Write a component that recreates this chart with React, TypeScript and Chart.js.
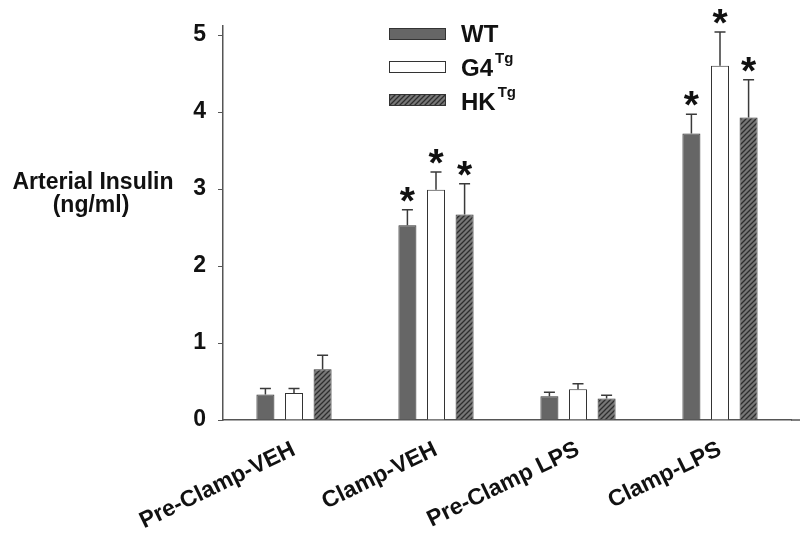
import { useEffect, useRef } from "react";
import { Chart, registerables } from "chart.js";
Chart.register(...registerables);

const categories = ["Pre-Clamp-VEH", "Clamp-VEH", "Pre-Clamp LPS", "Clamp-LPS"];
const seriesNames = ["WT", "G4", "HK"];
const seriesSup = ["", "Tg", "Tg"];
const wtValues = [0.33, 2.53, 0.31, 3.72];
const wtSem = [0.08, 0.2, 0.05, 0.25];
const g4Values = [0.35, 2.99, 0.4, 4.6];
const g4Sem = [0.06, 0.23, 0.07, 0.44];
const hkValues = [0.66, 2.67, 0.28, 3.93];
const hkSem = [0.18, 0.4, 0.04, 0.49];
const significant = [false, true, false, true];
const yTickValues = [0, 1, 2, 3, 4, 5];
const yTitleLines = ["Arterial Insulin", "(ng/ml)"];

const FONT = '"Liberation Sans", Arial, sans-serif';

function makeHatch(): CanvasPattern | string {
  const s = 5;
  const c = document.createElement("canvas");
  c.width = s;
  c.height = s;
  const g = c.getContext("2d");
  if (!g) return "#777";
  g.fillStyle = "#777777";
  g.fillRect(0, 0, s, s);
  g.strokeStyle = "#2e2e2e";
  g.lineWidth = 1.3;
  g.beginPath();
  g.moveTo(-1, s + 1);
  g.lineTo(s + 1, -1);
  g.moveTo(-1, 1);
  g.lineTo(1, -1);
  g.moveTo(s - 1, s + 1);
  g.lineTo(s + 1, s - 1);
  g.stroke();
  const p = g.createPattern(c, "repeat");
  return p || "#777";
}

const errorPlugin = {
  id: "errorBars",
  afterDatasetsDraw(chart: any) {
    const ctx = chart.ctx;
    const y = chart.scales.y;
    chart.data.datasets.forEach((ds: any, di: number) => {
      const meta = chart.getDatasetMeta(di);
      meta.data.forEach((bar: any, i: number) => {
        const topPx = y.getPixelForValue(ds.data[i] + ds.sem[i]);
        ctx.save();
        ctx.strokeStyle = "#3a3a3a";
        ctx.lineWidth = 1.5;
        ctx.beginPath();
        ctx.moveTo(bar.x, bar.y);
        ctx.lineTo(bar.x, topPx);
        ctx.moveTo(bar.x - 5.5, topPx);
        ctx.lineTo(bar.x + 5.5, topPx);
        ctx.stroke();
        if (significant[i]) {
          ctx.font = "bold 100px " + FONT;
          const m100 = ctx.measureText("*");
          const h100 = m100.actualBoundingBoxAscent + m100.actualBoundingBoxDescent;
          const size = Math.round((15 / h100) * 100);
          ctx.font = "bold " + size + "px " + FONT;
          const m = ctx.measureText("*");
          ctx.fillStyle = "#111";
          ctx.textAlign = "center";
          ctx.textBaseline = "alphabetic";
          ctx.fillText("*", bar.x, topPx - 8 - m.actualBoundingBoxDescent);
        }
        ctx.restore();
      });
    });
  },
};

const decorPlugin = {
  id: "decor",
  afterDraw(chart: any) {
    const ctx = chart.ctx;
    const area = chart.chartArea;
    ctx.save();
    ctx.strokeStyle = "#555";
    ctx.lineWidth = 1.5;
    ctx.beginPath();
    ctx.moveTo(area.right, area.bottom);
    ctx.lineTo(chart.width, area.bottom);
    ctx.stroke();

    ctx.fillStyle = "#111";
    ctx.textAlign = "center";
    ctx.textBaseline = "alphabetic";
    ctx.font = "bold 23px " + FONT;
    ctx.fillText(yTitleLines[0], 93, 189);
    ctx.fillText(yTitleLines[1], 91, 212);

    chart.data.datasets.forEach((ds: any, i: number) => {
      const bx = 389;
      const by = 28 + i * 33;
      ctx.fillStyle = ds.backgroundColor;
      ctx.fillRect(bx, by, 57, 11);
      ctx.strokeStyle = "#333";
      ctx.lineWidth = 1;
      ctx.strokeRect(bx + 0.5, by + 0.5, 56, 11);
      const base = 42 + i * 34;
      ctx.fillStyle = "#111";
      ctx.textAlign = "left";
      ctx.font = "bold 24px " + FONT;
      ctx.fillText(seriesNames[i], 461, base);
      if (seriesSup[i]) {
        const w = ctx.measureText(seriesNames[i]).width;
        ctx.font = "bold 15px " + FONT;
        ctx.fillText(seriesSup[i], 461 + w + 2, base - 13);
      }
    });
    ctx.restore();
  },
};

export default function App() {
  const ref = useRef<HTMLCanvasElement | null>(null);
  useEffect(() => {
    document.body.style.margin = "0";
    const canvas = ref.current;
    if (!canvas) return;
    const hatch = makeHatch();
    const chart = new Chart(canvas, {
      type: "bar",
      data: {
        labels: categories,
        datasets: [
          { label: seriesNames[0], data: wtValues, sem: wtSem, backgroundColor: "#666666", borderColor: "#333", borderWidth: 1 } as any,
          { label: seriesNames[1], data: g4Values, sem: g4Sem, backgroundColor: "#ffffff", borderColor: "#333", borderWidth: 1 } as any,
          { label: seriesNames[2], data: hkValues, sem: hkSem, backgroundColor: hatch, borderColor: "#333", borderWidth: 1 } as any,
        ],
      },
      options: {
        animation: false,
        responsive: false,
        maintainAspectRatio: false,
        layout: { padding: { top: 23, right: 9, left: 0, bottom: 0 } },
        datasets: { bar: { categoryPercentage: 0.604, barPercentage: 0.63 } },
        plugins: { legend: { display: false }, tooltip: { enabled: false }, title: { display: false } },
        scales: {
          x: {
            grid: { display: false },
            border: { display: true, color: "#555", width: 1.5 },
            ticks: {
              font: { family: FONT, size: 23, weight: "bold" },
              color: "#111",
              minRotation: 26,
              maxRotation: 26,
              padding: 8,
            },
            afterFit(scale: any) {
              scale.height = 121;
            },
          },
          y: {
            min: 0,
            max: 5.12,
            afterBuildTicks(scale: any) {
              scale.ticks = yTickValues.map((v) => ({ value: v }));
            },
            grid: { display: true, drawOnChartArea: false, drawTicks: true, tickLength: 5, color: "#555" },
            border: { display: true, color: "#555", width: 1.5 },
            ticks: {
              font: { family: FONT, size: 23, weight: "bold" },
              color: "#111",
              padding: 12,
            },
            afterFit(scale: any) {
              scale.width = 223;
            },
          },
        },
      } as any,
      plugins: [errorPlugin, decorPlugin],
    });
    return () => chart.destroy();
  }, []);
  return (
    <div style={{ width: 800, height: 541 }}>
      <canvas ref={ref} width={800} height={541} style={{ display: "block" }} />
    </div>
  );
}
